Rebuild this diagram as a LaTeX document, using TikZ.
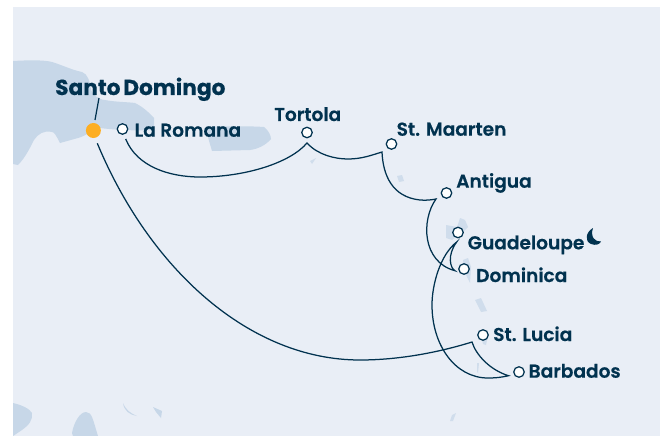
\documentclass[tikz,border=0pt]{standalone}
\usepackage{fontspec}
\setmainfont{Poppins}[BoldFont={* SemiBold},BoldFeatures={FakeBold=0.5}]
\newfontfamily\homefont{Poppins}[UprightFont={* Bold},UprightFeatures={FakeBold=0.5},WordSpace=0.6]
\definecolor{sea}{HTML}{E9EEF6}
\definecolor{land}{HTML}{C7D7E8}
\definecolor{ink}{HTML}{01324F}
\definecolor{port}{HTML}{FDAE22}
\tikzset{
  land/.style={fill=land,draw=none},
  islet/.style={fill=land!75!sea,draw=none},
  route/.style={draw=ink,line width=1.25pt},
  portdot/.style={circle,draw=ink,fill=white,line width=1.25pt,minimum size=10.5pt,inner sep=0pt},
  homedot/.style={circle,fill=port,minimum size=15pt,inner sep=0pt},
  portlabel/.style={text=ink,font=\bfseries\fontsize{18.6}{20}\selectfont,inner sep=0pt,anchor=base west},
  homelabel/.style={text=ink,font=\homefont\fontsize{21.7}{24}\selectfont,inner sep=0pt,anchor=base west}
}
\begin{document}
\begin{tikzpicture}[x=1pt,y=-1pt]
\useasboundingbox (0,0) rectangle (667,436);
\fill[white] (0,0) rectangle (667,436);
\fill[sea] (13,7) rectangle (660,436);
% land
\path[land] (13,61) .. controls (30,60) and (45,60) .. (52,62) .. controls (62,65) and (72,70) .. (82,72) .. controls (88,74) and (90,82) .. (91,90) .. controls (95,98) and (102,100) .. (105,100) .. controls (115,102) and (128,102) .. (135,103) .. controls (145,108) and (150,114) .. (154,118) -- (154,130) .. controls (140,131) and (115,130) .. (100,128) .. controls (92,130) and (86,136) .. (78,138) -- (60,143) .. controls (56,135) and (54,132) .. (52,132) .. controls (44,130) and (38,134) .. (34,140) .. controls (30,148) and (25,158) .. (18,165) -- (13,164) -- cycle;
\path[land] (206,127) .. controls (225,126) and (250,126) .. (264,127) .. controls (268,130) and (271,135) .. (271,139) .. controls (266,145) and (258,149) .. (250,150) -- (212,151) .. controls (210,144) and (207,135) .. (206,127) -- cycle;
\path[islet] (310,161) -- (316,158) -- (312,164) -- cycle;
\path[islet] (397,176) -- (402,175) -- (404,181) -- (399,182) -- cycle;
\path[islet] (446,225) -- (457,227) -- (460,218) -- (465,220) -- (468,227) -- (463,232) -- (452,240) -- (446,238) -- cycle;
\path[islet] (463,260) -- (468,258) -- (471,267) -- (470,283) -- (465,273) -- cycle;
\path[islet] (475,300) -- (481,298) -- (487,311) -- (481,312) -- cycle;
\path[islet] (482,340) -- (487,340) -- (486,345) -- (483,344) -- cycle;
\path[islet] (477,363) -- (479,363) -- (478,373) -- (477,372) -- cycle;
\path[islet] (452,415) -- (456,413) -- (453,421) -- (450,421) -- cycle;
\path[land] (13,403) .. controls (22,405) and (30,409) .. (32,413) .. controls (33,420) and (29,425) .. (22,430) -- (13,436) -- cycle;
\path[land] (72,433) .. controls (74,422) and (80,412) .. (86,412) .. controls (92,412) and (93,420) .. (98,436) -- (73,436) -- cycle;
\path[land] (123,403) .. controls (126,410) and (130,413) .. (137,416) .. controls (130,415) and (124,411) .. (123,403) -- cycle;
\path[land] (153,407) -- (162,411) -- (161,418) -- (156,412) -- cycle;
% nodes
\node[homedot] (sd) at (93.4,130.5) {};
\node[portdot] (lr) at (122.5,129) {};
\node[portdot] (to) at (307,132.5) {};
\node[portdot] (sm) at (391.5,144) {};
\node[portdot] (an) at (446.5,193) {};
\node[portdot] (gu) at (458,232.5) {};
\node[portdot] (do) at (464,269) {};
\node[portdot] (sl) at (483,335) {};
\node[portdot] (ba) at (519,372) {};
\node[homelabel] (lsd) at (55,95) {Santo Domingo};
\node[portlabel] (llr) at (134.5,136.7) {La Romana};
\node[portlabel] (lto) at (274,121) {Tortola};
\node[portlabel] (lsm) at (396.5,135.7) {St. Maarten};
\node[portlabel] (lan) at (456,187.7) {Antigua};
\node[portlabel] (lgu) at (467.5,249.3) {Guadeloupe};
\node[portlabel] (ldo) at (476,282) {Dominica};
\node[portlabel] (lsl) at (493,341) {St. Lucia};
\node[portlabel] (lba) at (528.5,377.7) {Barbados};
% moon
\fill[ink] (593,228) .. controls (586,232) and (584,241) .. (591,244) .. controls (596,246) and (600,244) .. (601,241.5) .. controls (595,242) and (590,237) .. (593,228) -- cycle;
% connectors
\coordinate (lsdfoot) at (99,98);
\coordinate (sdtop) at (95,120);
\draw[route] (lsdfoot) -- (sdtop);
\coordinate (sdout) at (97.3,143.3);
\coordinate (lrout) at (125.7,139);
\coordinate (tot) at (307,143);
\coordinate (smin) at (382,152);
\coordinate (anin) at (436,199);
\coordinate (dot) at (455,270.7);
\coordinate (gut) at (456.7,242);
\coordinate (bat) at (508.5,375.7);
\coordinate (slt) at (472,342);
\draw[route,line join=miter] (lrout) .. controls (137,167) and (170,177) .. (200,177) .. controls (245,177) and (290,163) .. (tot)
  .. controls (318,155) and (335,159) .. (348,159) .. controls (362,159) and (372,155) .. (smin)
  .. controls (383,175) and (392,197) .. (420,200) .. controls (426,200.5) and (431,200) .. (anin)
  .. controls (421,220) and (422,262) .. (dot)
  .. controls (450,268) and (447,255) .. (gut)
  .. controls (440,255) and (432,285) .. (432,305) .. controls (432,345) and (455,378) .. (488,378) .. controls (497,378) and (503,377) .. (bat)
  .. controls (490,370) and (476,355) .. (slt)
  .. controls (440,352) and (400,360) .. (360,360) .. controls (250,360) and (150,270) .. (sdout);
\end{tikzpicture}
\end{document}
